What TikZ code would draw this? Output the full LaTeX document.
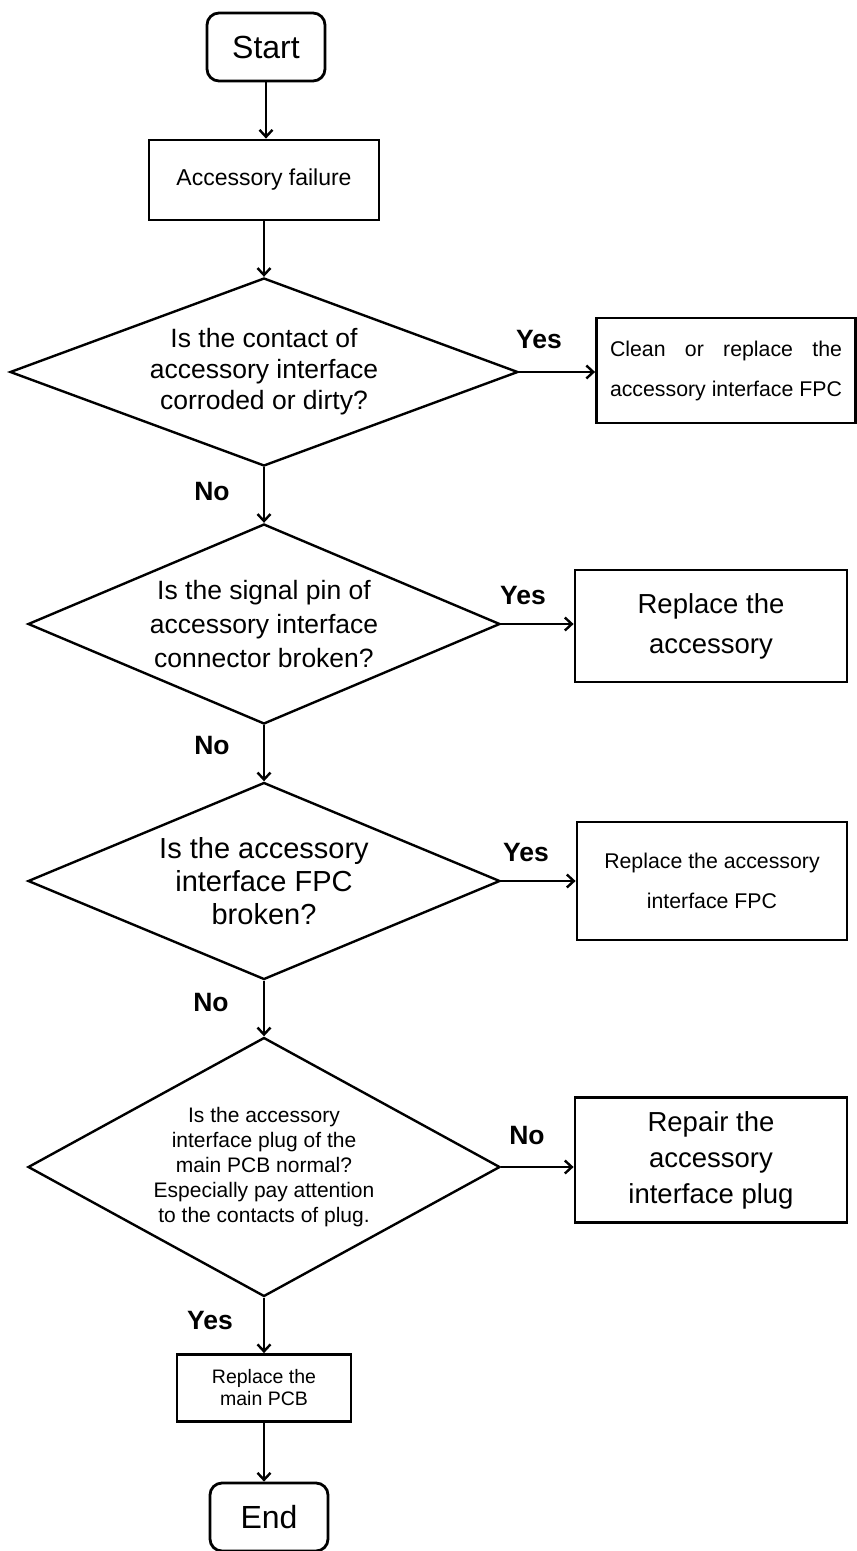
\documentclass[tikz,border=0pt]{standalone}
\usepackage{fontspec}
\setmainfont{Liberation Sans}
\usetikzlibrary{shapes.geometric, arrows.meta}

\tikzset{
  term/.style={draw, line width=2.8pt, rounded corners=12pt, minimum width=118pt, minimum height=68pt, inner sep=0pt, font=\fontsize{32}{36}\selectfont},
  procbox/.style={draw, line width=2.8pt, inner sep=0pt, align=center},
  decide/.style={draw, diamond, line width=2.4pt, inner sep=0pt, align=center},
  lbl/.style={font=\fontsize{26.5}{30}\selectfont\bfseries},
  arr/.style={-{Straight Barb[length=7pt, width=13pt]}, line width=2.4pt}
}

\begin{document}
\begin{tikzpicture}[x=1pt, y=-1pt]
  \useasboundingbox (0,0) rectangle (857,1551);

  % main column
  \node[term] (start) at (266,47) {Start};
  \node[procbox, minimum width=230pt, minimum height=80pt, font=\fontsize{23}{28}\selectfont] (fail) at (264,180) {Accessory failure};
  \node[decide, minimum width=508pt, minimum height=188pt, aspect=2.7, font=\fontsize{26.5}{31}\selectfont] (q1) at (264,372)
    {Is the contact of\\accessory interface\\corroded or dirty?};
  \node[decide, minimum width=472pt, minimum height=200pt, aspect=2.36, font=\fontsize{26.5}{34}\selectfont] (q2) at (264,624)
    {Is the signal pin of\\accessory interface\\connector broken?};
  \node[decide, minimum width=472pt, minimum height=197pt, aspect=2.4, font=\fontsize{29}{33}\selectfont] (q3) at (264,881)
    {Is the accessory\\interface FPC\\broken?};
  \node[decide, minimum width=472pt, minimum height=259pt, aspect=1.82, font=\fontsize{21}{25}\selectfont] (q4) at (264,1167)
    {Is the accessory\\interface plug of the\\main PCB normal?\\Especially pay attention\\to the contacts of plug.};
  \node[procbox, minimum width=174pt, minimum height=67pt, font=\fontsize{19.5}{22}\selectfont] (pcb) at (264,1388) {Replace the\\main PCB};
  \node[term] (end) at (269,1517) {End};

  % right column
  \node[procbox, minimum width=259pt, minimum height=105pt, font=\fontsize{21.3}{40}\selectfont] (fix1) at (726,370.5)
    {\makebox[232pt][s]{Clean or replace the}\\accessory interface FPC};
  \node[procbox, minimum width=272pt, minimum height=112pt, font=\fontsize{27.5}{40}\selectfont] (fix2) at (711,626)
    {Replace the\\accessory};
  \node[procbox, minimum width=270pt, minimum height=118pt, font=\fontsize{21.3}{40}\selectfont] (fix3) at (712,881)
    {Replace the accessory\\interface FPC};
  \node[procbox, minimum width=272pt, minimum height=125pt, font=\fontsize{27.5}{36}\selectfont] (fix4) at (711,1160)
    {Repair the\\accessory\\interface plug};

  % branch labels
  \node[lbl] (y1) at (539,340) {Yes};
  \node[lbl] (n1) at (212,492) {No};
  \node[lbl] (y2) at (523,596) {Yes};
  \node[lbl] (n2) at (212,746) {No};
  \node[lbl] (y3) at (526,853) {Yes};
  \node[lbl] (n3) at (211,1002) {No};
  \node[lbl] (n4) at (527,1135) {No};
  \node[lbl] (y4) at (210,1320) {Yes};

  % connectors
  \draw[arr] (start) -- (start |- fail.north);
  \draw[arr] (fail) -- (q1);
  \draw[arr] (q1) -- (q2);
  \draw[arr] (q2) -- (q3);
  \draw[arr] (q3) -- (q4);
  \draw[arr] (q4) -- (pcb);
  \draw[arr] (pcb) -- (pcb |- end.north);
  \draw[arr] (q1.east) -- (q1.east -| fix1.west);
  \draw[arr] (q2.east) -- (q2.east -| fix2.west);
  \draw[arr] (q3.east) -- (q3.east -| fix3.west);
  \draw[arr] (q4.east) -- (q4.east -| fix4.west);
\end{tikzpicture}
\end{document}
